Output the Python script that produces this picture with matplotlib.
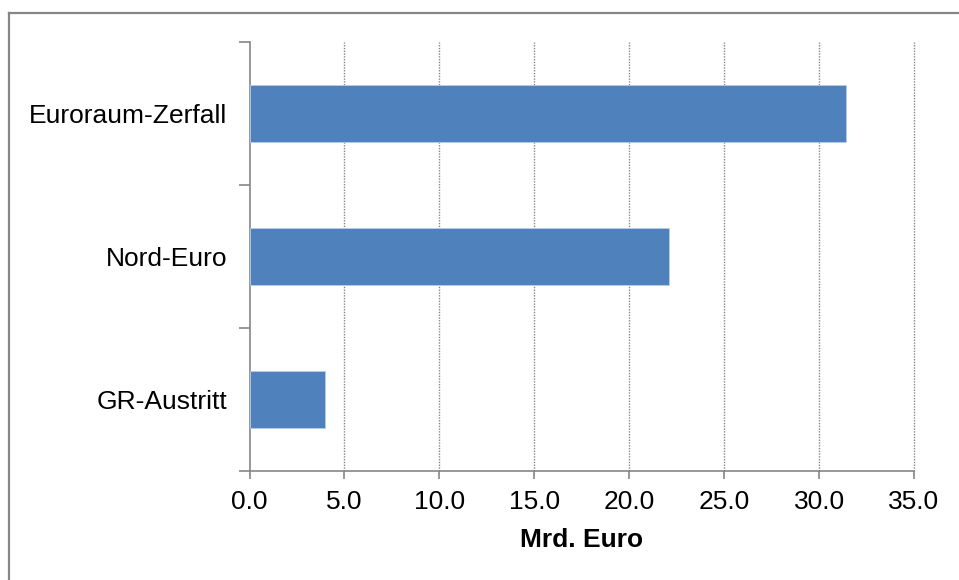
import matplotlib.pyplot as plt
from matplotlib.lines import Line2D
from matplotlib.ticker import FixedLocator, FormatStrFormatter

# Scenario costs, bottom to top
scenarios = ["GR-Austritt", "Nord-Euro", "Euroraum-Zerfall"]
costs = [4.0, 22.1, 31.4]
x_ticks = [0, 5, 10, 15, 20, 25, 30, 35]

bar_color = "#4F81BD"
grey = "#868686"
font_size = 19

plt.rcParams["font.family"] = ["Liberation Sans", "DejaVu Sans"]

fig = plt.figure(figsize=(9.59, 5.8), dpi=100)
ax = fig.add_axes([0.2602, 0.1884, 0.6929, 0.7397])

positions = list(range(len(scenarios)))
ax.barh(positions, costs, height=0.4, color=bar_color, edgecolor="#B9CDE5", linewidth=0.6, zorder=3)

ax.set_xlim(0, 35)
ax.set_ylim(-0.5, len(scenarios) - 0.5)

# x axis
ax.set_xticks(x_ticks)
ax.xaxis.set_major_formatter(FormatStrFormatter("%.1f"))
ax.tick_params(axis="x", direction="out", length=6, width=1.2, color=grey,
               labelsize=font_size, pad=8)
ax.set_xlabel("Mrd. Euro", fontsize=font_size, fontweight="bold", labelpad=10)
for x in x_ticks[1:]:
    ax.axvline(x, color=grey, linestyle=(0, (1, 1.0)), linewidth=1.0, zorder=1, clip_on=False)

# y axis: tick marks between categories, labels at category centres
ax.yaxis.set_major_locator(FixedLocator([p - 0.5 for p in range(len(scenarios) + 1)]))
ax.yaxis.set_minor_locator(FixedLocator(positions))
ax.set_yticklabels([])
ax.set_yticklabels(scenarios, minor=True)
ax.tick_params(axis="y", which="major", direction="out", length=8, width=1.2, color=grey)
ax.tick_params(axis="y", which="minor", length=0, labelsize=font_size, pad=16)

for side in ["top", "right"]:
    ax.spines[side].set_visible(False)
for side in ["left", "bottom"]:
    ax.spines[side].set_color(grey)
    ax.spines[side].set_linewidth(1.2)

# chart frame (top and left edges)
fx = 8.5 / 959
fy = 1 - 12.5 / 580
fig.add_artist(Line2D([fx, fx], [0, fy], transform=fig.transFigure, color=grey, linewidth=1.6))
fig.add_artist(Line2D([fx, 1], [fy, fy], transform=fig.transFigure, color=grey, linewidth=1.6))

fig.savefig("out.png", dpi=100)
